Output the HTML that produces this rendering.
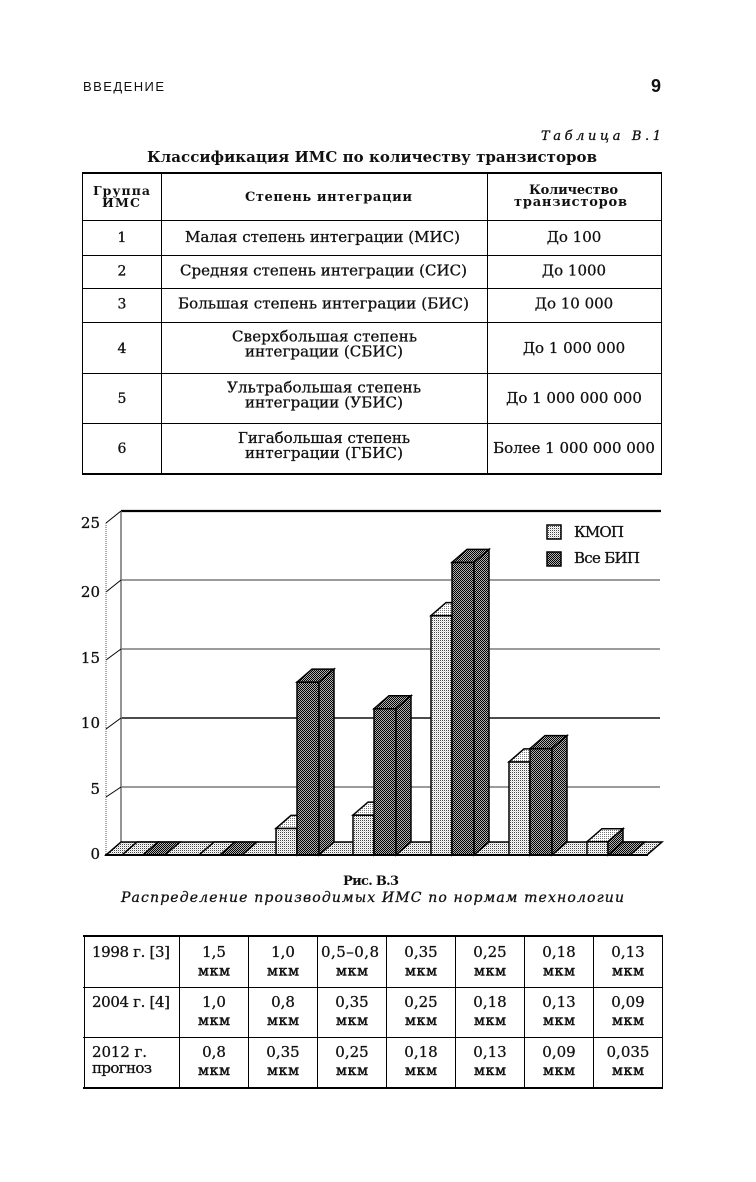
<!DOCTYPE html>
<html>
<head>
<meta charset="utf-8">
<style>
html,body{margin:0;padding:0;background:#fff;}
svg{display:block;}
.s{font-family:"DejaVu Serif","Liberation Serif",serif;fill:#111;}
.w{stroke:#111;stroke-width:0.3;}
.b{font-weight:bold;}
.i{font-style:italic;}
.sans{font-family:"Liberation Sans","DejaVu Sans",sans-serif;fill:#111;}
</style>
</head>
<body>
<svg width="756" height="1182" viewBox="0 0 756 1182" xmlns="http://www.w3.org/2000/svg">
<defs>
  <pattern id="lt" width="2" height="2" patternUnits="userSpaceOnUse">
    <rect width="2" height="2" fill="#fff"/><rect width="1" height="1" fill="#444"/><rect x="1" y="1" width="1" height="1" fill="#d8d8d8"/>
  </pattern>
  <pattern id="lt2" width="2" height="2" patternUnits="userSpaceOnUse">
    <rect width="2" height="2" fill="#fff"/><rect width="1" height="1" fill="#777"/>
  </pattern>
  <pattern id="dk" width="2" height="2" patternUnits="userSpaceOnUse">
    <rect width="2" height="2" fill="#b0b0b0"/><rect width="1" height="1" fill="#000"/><rect x="1" y="1" width="1" height="1" fill="#000"/>
  </pattern>
</defs>
<rect width="756" height="1182" fill="#fff"/>

<!-- Header -->
<text class="sans" x="83" y="91" font-size="13" textLength="81" lengthAdjust="spacing">ВВЕДЕНИЕ</text>
<text class="sans" x="661" y="92" font-size="18" font-weight="bold" text-anchor="end">9</text>

<!-- Table caption -->
<text class="s i w" x="541" y="140" font-size="13" textLength="120" lengthAdjust="spacing">Таблица В.1</text>
<text class="s b" x="147" y="162" font-size="15" textLength="450" lengthAdjust="spacing">Классификация ИМС по количеству транзисторов</text>

<!-- Top table lines -->
<g stroke="#000" fill="none">
  <line x1="82" y1="173" x2="662" y2="173" stroke-width="2"/>
  <line x1="82" y1="474" x2="662" y2="474" stroke-width="2"/>
  <line x1="82" y1="220.5" x2="662" y2="220.5" stroke-width="1"/>
  <line x1="82" y1="255.5" x2="662" y2="255.5" stroke-width="1"/>
  <line x1="82" y1="288.5" x2="662" y2="288.5" stroke-width="1"/>
  <line x1="82" y1="322.5" x2="662" y2="322.5" stroke-width="1"/>
  <line x1="82" y1="373.5" x2="662" y2="373.5" stroke-width="1"/>
  <line x1="82" y1="423.5" x2="662" y2="423.5" stroke-width="1"/>
  <line x1="82.5" y1="173" x2="82.5" y2="474" stroke-width="1"/>
  <line x1="161.5" y1="173" x2="161.5" y2="474" stroke-width="1"/>
  <line x1="487.5" y1="173" x2="487.5" y2="474" stroke-width="1"/>
  <line x1="661.5" y1="173" x2="661.5" y2="474" stroke-width="1"/>
</g>

<!-- Top table header -->
<text class="s b" x="93" y="195" font-size="12.5" textLength="57" lengthAdjust="spacing">Группа</text>
<text class="s b" x="102" y="207" font-size="12.5" textLength="38" lengthAdjust="spacing">ИМС</text>
<text class="s b" x="245" y="201" font-size="13" textLength="167" lengthAdjust="spacing">Степень интеграции</text>
<text class="s b" x="529" y="194" font-size="13" textLength="89" lengthAdjust="spacing">Количество</text>
<text class="s b" x="514" y="206" font-size="13" textLength="113" lengthAdjust="spacing">транзисторов</text>

<!-- Top table body -->
<g class="s w" font-size="15">
  <text x="122" y="242" text-anchor="middle" font-size="14">1</text>
  <text x="122" y="275.5" text-anchor="middle" font-size="14">2</text>
  <text x="122" y="308.5" text-anchor="middle" font-size="14">3</text>
  <text x="122" y="353" text-anchor="middle" font-size="14">4</text>
  <text x="122" y="403" text-anchor="middle" font-size="14">5</text>
  <text x="122" y="453" text-anchor="middle" font-size="14">6</text>

  <text x="185" y="242" textLength="275" lengthAdjust="spacing">Малая степень интеграции (МИС)</text>
  <text x="180" y="275.5" textLength="287" lengthAdjust="spacing">Средняя степень интеграции (СИС)</text>
  <text x="178" y="308.5" textLength="291" lengthAdjust="spacing">Большая степень интеграции (БИС)</text>
  <text x="232" y="341.5" textLength="185" lengthAdjust="spacing">Сверхбольшая степень</text>
  <text x="245" y="356.5" textLength="158" lengthAdjust="spacing">интеграции (СБИС)</text>
  <text x="227" y="392.5" textLength="194" lengthAdjust="spacing">Ультрабольшая степень</text>
  <text x="245" y="407.5" textLength="158" lengthAdjust="spacing">интеграции (УБИС)</text>
  <text x="238" y="443" textLength="172" lengthAdjust="spacing">Гигабольшая степень</text>
  <text x="245" y="458" textLength="158" lengthAdjust="spacing">интеграции (ГБИС)</text>

  <text x="574" y="242" text-anchor="middle">До 100</text>
  <text x="574" y="275.5" text-anchor="middle">До 1000</text>
  <text x="574" y="308.5" text-anchor="middle">До 10 000</text>
  <text x="574" y="353" text-anchor="middle">До 1 000 000</text>
  <text x="574" y="403" text-anchor="middle">До 1 000 000 000</text>
  <text x="574" y="453" text-anchor="middle">Более 1 000 000 000</text>
</g>

<!-- ============ CHART ============ -->
<g fill="none">
  <line x1="121" y1="580" x2="660" y2="580" stroke="#7a7a7a" stroke-width="1.6"/>
  <line x1="121" y1="649" x2="660" y2="649" stroke="#7a7a7a" stroke-width="1.6"/>
  <line x1="121" y1="718" x2="660" y2="718" stroke="#111" stroke-width="1.4"/>
  <line x1="121" y1="787" x2="660" y2="787" stroke="#7a7a7a" stroke-width="1.6"/>
  <line x1="121" y1="511" x2="661" y2="511" stroke="#000" stroke-width="2.2"/>
  <line x1="121" y1="511" x2="121" y2="842" stroke="#7a7a7a" stroke-width="1.6"/>
  <line x1="106" y1="523" x2="121" y2="511" stroke="#000" stroke-width="1"/>
  <line x1="106" y1="592" x2="121" y2="580" stroke="#000" stroke-width="1"/>
  <line x1="106" y1="660" x2="121" y2="649" stroke="#000" stroke-width="1"/>
  <line x1="106" y1="729" x2="121" y2="718" stroke="#000" stroke-width="1"/>
  <line x1="106" y1="797" x2="121" y2="787" stroke="#000" stroke-width="1"/>
  <line x1="106" y1="523" x2="106" y2="855" stroke="#555" stroke-width="1" stroke-dasharray="1,1"/>
</g>

<!-- Floor -->
<polygon points="106,855 647,855 662,842 121,842" fill="url(#lt)" stroke="#000" stroke-width="1.5"/>

<!-- Bars -->
<g stroke="#000" stroke-width="1.5" stroke-linejoin="miter">
  <polygon points="122,855 143,855 158,842 137,842" fill="url(#lt)"/>
  <polygon points="143,855 165,855 180,842 158,842" fill="url(#dk)"/>
  <polygon points="199,855 220,855 235,842 214,842" fill="url(#lt)"/>
  <polygon points="220,855 242,855 257,842 235,842" fill="url(#dk)"/>

  <rect x="276" y="828.4" width="21" height="26.6" fill="url(#lt)"/>
  <polygon points="276,828.4 297,828.4 312,815.4 291,815.4" fill="url(#lt2)"/>
  <polygon points="297,828.4 312,815.4 312,842 297,855" fill="url(#lt)"/>
  <rect x="297" y="682.1" width="22" height="172.9" fill="url(#dk)"/>
  <polygon points="297,682.1 319,682.1 334,669.1 312,669.1" fill="url(#dk)"/>
  <polygon points="319,682.1 334,669.1 334,842 319,855" fill="url(#dk)"/>

  <rect x="353" y="815.1" width="21" height="39.9" fill="url(#lt)"/>
  <polygon points="353,815.1 374,815.1 389,802.1 368,802.1" fill="url(#lt2)"/>
  <polygon points="374,815.1 389,802.1 389,842 374,855" fill="url(#lt)"/>
  <rect x="374" y="708.7" width="22" height="146.3" fill="url(#dk)"/>
  <polygon points="374,708.7 396,708.7 411,695.7 389,695.7" fill="url(#dk)"/>
  <polygon points="396,708.7 411,695.7 411,842 396,855" fill="url(#dk)"/>

  <rect x="431" y="615.6" width="21" height="239.4" fill="url(#lt)"/>
  <polygon points="431,615.6 452,615.6 467,602.6 446,602.6" fill="url(#lt2)"/>
  <polygon points="452,615.6 467,602.6 467,842 452,855" fill="url(#lt)"/>
  <rect x="452" y="562.4" width="22" height="292.6" fill="url(#dk)"/>
  <polygon points="452,562.4 474,562.4 489,549.4 467,549.4" fill="url(#dk)"/>
  <polygon points="474,562.4 489,549.4 489,842 474,855" fill="url(#dk)"/>

  <rect x="509" y="761.9" width="21" height="93.1" fill="url(#lt)"/>
  <polygon points="509,761.9 530,761.9 545,748.9 524,748.9" fill="url(#lt2)"/>
  <polygon points="530,761.9 545,748.9 545,842 530,855" fill="url(#lt)"/>
  <rect x="530" y="748.6" width="22" height="106.4" fill="url(#dk)"/>
  <polygon points="530,748.6 552,748.6 567,735.6 545,735.6" fill="url(#dk)"/>
  <polygon points="552,748.6 567,735.6 567,842 552,855" fill="url(#dk)"/>

  <rect x="587" y="841.7" width="21" height="13.3" fill="url(#lt)"/>
  <polygon points="587,841.7 608,841.7 623,828.7 602,828.7" fill="url(#lt2)"/>
  <polygon points="608,841.7 623,828.7 623,842 608,855" fill="url(#dk)"/>
  <polygon points="608,855 630,855 645,842 623,842" fill="url(#dk)"/>
</g>

<line x1="105" y1="855" x2="648" y2="855" stroke="#000" stroke-width="2"/>

<!-- Y tick labels -->
<g class="s w" font-size="15" text-anchor="end">
  <text x="100" y="528">25</text>
  <text x="100" y="597">20</text>
  <text x="100" y="663">15</text>
  <text x="100" y="728">10</text>
  <text x="100" y="794">5</text>
  <text x="100" y="859">0</text>
</g>

<!-- Legend -->
<rect x="547" y="525" width="14" height="14" fill="url(#lt)" stroke="#000" stroke-width="1.5"/>
<rect x="547" y="552" width="14" height="14" fill="url(#dk)" stroke="#000" stroke-width="1.5"/>
<text class="s w" x="574" y="537" font-size="15" textLength="50" lengthAdjust="spacing">КМОП</text>
<text class="s w" x="574" y="563" font-size="15" textLength="66" lengthAdjust="spacing">Все БИП</text>

<!-- Figure caption -->
<text class="s b" x="343" y="885" font-size="13" textLength="56" lengthAdjust="spacing">Рис. В.3</text>
<text class="s i w" x="121" y="902" font-size="14" textLength="503" lengthAdjust="spacing">Распределение производимых ИМС по нормам технологии</text>

<!-- Bottom table lines -->
<g stroke="#000" fill="none">
  <line x1="83" y1="936" x2="663" y2="936" stroke-width="2"/>
  <line x1="83" y1="1088" x2="663" y2="1088" stroke-width="2"/>
  <line x1="83" y1="987.5" x2="663" y2="987.5" stroke-width="1"/>
  <line x1="83" y1="1037.5" x2="663" y2="1037.5" stroke-width="1"/>
  <line x1="84.5" y1="936" x2="84.5" y2="1088" stroke-width="1"/>
  <line x1="179.5" y1="936" x2="179.5" y2="1088" stroke-width="1"/>
  <line x1="248.5" y1="936" x2="248.5" y2="1088" stroke-width="1"/>
  <line x1="317.5" y1="936" x2="317.5" y2="1088" stroke-width="1"/>
  <line x1="386.5" y1="936" x2="386.5" y2="1088" stroke-width="1"/>
  <line x1="455.5" y1="936" x2="455.5" y2="1088" stroke-width="1"/>
  <line x1="524.5" y1="936" x2="524.5" y2="1088" stroke-width="1"/>
  <line x1="593.5" y1="936" x2="593.5" y2="1088" stroke-width="1"/>
  <line x1="662.5" y1="936" x2="662.5" y2="1088" stroke-width="1"/>
</g>

<!-- Bottom table text -->
<g class="s w" font-size="15">
  <text x="92" y="957" textLength="78" lengthAdjust="spacing">1998 г. [3]</text>
  <text x="92" y="1007" textLength="78" lengthAdjust="spacing">2004 г. [4]</text>
  <text x="92" y="1057" textLength="55" lengthAdjust="spacing">2012 г.</text>
  <text x="92" y="1073" textLength="60" lengthAdjust="spacing">прогноз</text>
</g>
<g class="s w" font-size="15" text-anchor="middle">
  <text x="214" y="957">1,5</text>
  <text x="283" y="957">1,0</text>
  <text x="350" y="957" textLength="58" lengthAdjust="spacing">0,5–0,8</text>
  <text x="421" y="957">0,35</text>
  <text x="490" y="957">0,25</text>
  <text x="559" y="957">0,18</text>
  <text x="628" y="957">0,13</text>

  <text x="214" y="1007">1,0</text>
  <text x="283" y="1007">0,8</text>
  <text x="352" y="1007">0,35</text>
  <text x="421" y="1007">0,25</text>
  <text x="490" y="1007">0,18</text>
  <text x="559" y="1007">0,13</text>
  <text x="628" y="1007">0,09</text>

  <text x="214" y="1057">0,8</text>
  <text x="283" y="1057">0,35</text>
  <text x="352" y="1057">0,25</text>
  <text x="421" y="1057">0,18</text>
  <text x="490" y="1057">0,13</text>
  <text x="559" y="1057">0,09</text>
  <text x="628" y="1057">0,035</text>
</g>
<g class="s" font-size="14" stroke="#111" stroke-width="0.5">
  <text x="198" y="975.5" textLength="32" lengthAdjust="spacing">мкм</text>
  <text x="267" y="975.5" textLength="32" lengthAdjust="spacing">мкм</text>
  <text x="336" y="975.5" textLength="32" lengthAdjust="spacing">мкм</text>
  <text x="405" y="975.5" textLength="32" lengthAdjust="spacing">мкм</text>
  <text x="474" y="975.5" textLength="32" lengthAdjust="spacing">мкм</text>
  <text x="543" y="975.5" textLength="32" lengthAdjust="spacing">мкм</text>
  <text x="612" y="975.5" textLength="32" lengthAdjust="spacing">мкм</text>

  <text x="198" y="1025" textLength="32" lengthAdjust="spacing">мкм</text>
  <text x="267" y="1025" textLength="32" lengthAdjust="spacing">мкм</text>
  <text x="336" y="1025" textLength="32" lengthAdjust="spacing">мкм</text>
  <text x="405" y="1025" textLength="32" lengthAdjust="spacing">мкм</text>
  <text x="474" y="1025" textLength="32" lengthAdjust="spacing">мкм</text>
  <text x="543" y="1025" textLength="32" lengthAdjust="spacing">мкм</text>
  <text x="612" y="1025" textLength="32" lengthAdjust="spacing">мкм</text>

  <text x="198" y="1075" textLength="32" lengthAdjust="spacing">мкм</text>
  <text x="267" y="1075" textLength="32" lengthAdjust="spacing">мкм</text>
  <text x="336" y="1075" textLength="32" lengthAdjust="spacing">мкм</text>
  <text x="405" y="1075" textLength="32" lengthAdjust="spacing">мкм</text>
  <text x="474" y="1075" textLength="32" lengthAdjust="spacing">мкм</text>
  <text x="543" y="1075" textLength="32" lengthAdjust="spacing">мкм</text>
  <text x="612" y="1075" textLength="32" lengthAdjust="spacing">мкм</text>
</g>
</svg>
</body>
</html>
